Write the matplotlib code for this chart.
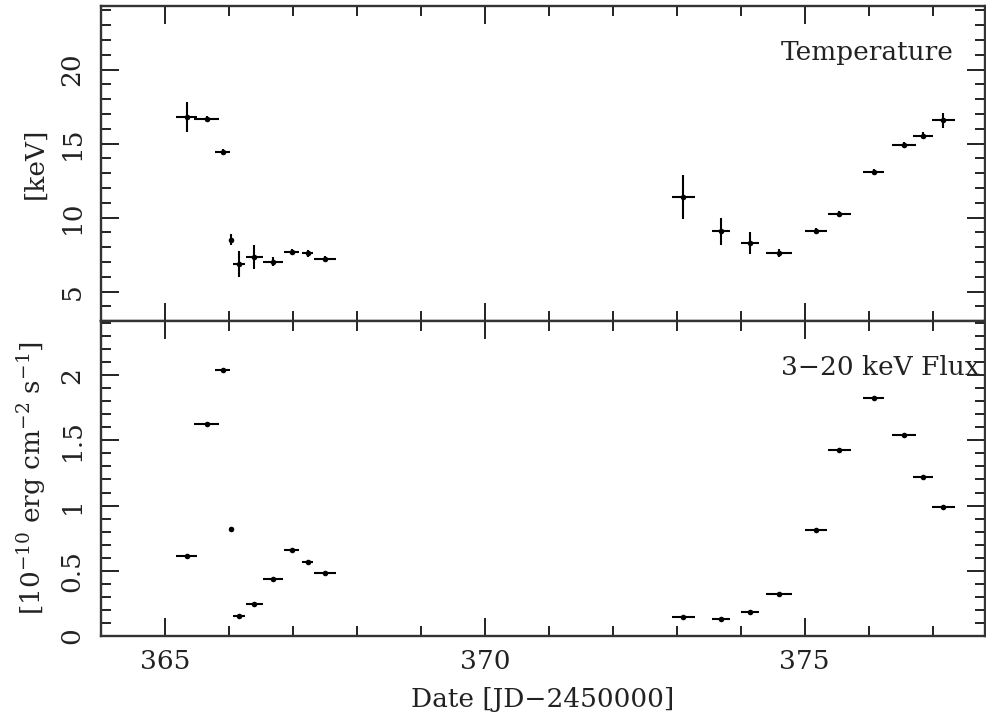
import matplotlib
matplotlib.use("Agg")
import matplotlib.pyplot as plt
from matplotlib.ticker import MultipleLocator

plt.rcParams['font.family'] = ['DejaVu Serif']
plt.rcParams['mathtext.fontset'] = 'dejavuserif'

# Observation dates [JD-2450000]
date = [365.34, 365.65, 365.90, 366.04, 366.16, 366.40, 366.69, 366.98, 367.23, 367.50,
        373.10, 373.69, 374.15, 374.60, 375.18, 375.54, 376.08, 376.55, 376.85, 377.17]
date_err = [0.16, 0.19, 0.11, 0.04, 0.09, 0.13, 0.16, 0.12, 0.09, 0.17,
            0.18, 0.14, 0.14, 0.20, 0.17, 0.18, 0.16, 0.19, 0.16, 0.18]

# Temperature [keV]
temp = [16.80, 16.67, 14.46, 8.51, 6.87, 7.32, 7.01, 7.68, 7.57, 7.23,
        11.37, 9.07, 8.29, 7.61, 9.07, 10.27, 13.09, 14.89, 15.54, 16.57]
temp_err = [1.0, 0.2, 0.2, 0.35, 0.9, 0.8, 0.3, 0.2, 0.25, 0.2,
            1.5, 0.9, 0.75, 0.25, 0.2, 0.2, 0.2, 0.2, 0.25, 0.5]

# 3-20 keV flux [1e-10 erg cm^-2 s^-1]
flux = [0.613, 1.625, 2.04, 0.82, 0.156, 0.248, 0.434, 0.659, 0.569, 0.48,
        0.143, 0.133, 0.186, 0.32, 0.812, 1.425, 1.826, 1.54, 1.216, 0.99]
flux_err = [0.015, 0.015, 0.015, 0.015, 0.012, 0.012, 0.012, 0.012, 0.012, 0.012,
            0.012, 0.012, 0.012, 0.012, 0.015, 0.015, 0.015, 0.015, 0.015, 0.015]

FS = 19
TXT = '#222222'
fig = plt.figure(figsize=(9.87, 7.14), dpi=100)
axT = fig.add_axes([0.1023, 0.5503, 0.8957, 0.4413])
axF = fig.add_axes([0.1023, 0.1092, 0.8957, 0.4411], sharex=axT)

ekw = dict(fmt='o', color='black', ms=4, elinewidth=1.5, capsize=0, mew=0)
axT.errorbar(date, temp, xerr=date_err, yerr=temp_err, **ekw)
axF.errorbar(date, flux, xerr=date_err, yerr=flux_err, **ekw)

axT.set_xlim(364.0, 377.82)
axT.set_ylim(3.0, 24.3)
axF.set_ylim(0.0, 2.414)

axT.yaxis.set_major_locator(MultipleLocator(5))
axT.yaxis.set_minor_locator(MultipleLocator(1))
axF.yaxis.set_major_locator(MultipleLocator(0.5))
axF.yaxis.set_minor_locator(MultipleLocator(0.1))
axF.set_yticks([0, 0.5, 1, 1.5, 2])
axF.set_yticklabels(['0', '0.5', '1', '1.5', '2'])
axT.set_yticks([5, 10, 15, 20])

for ax in (axT, axF):
    for s in ax.spines.values():
        s.set_linewidth(1.7)
        s.set_color('#333333')
    ax.xaxis.set_major_locator(MultipleLocator(5))
    ax.xaxis.set_minor_locator(MultipleLocator(1))
    ax.tick_params(which='both', direction='in', top=True, right=True,
                   width=1.4, color='#222222', labelsize=FS, labelcolor=TXT)
    ax.tick_params(which='major', length=13)
    ax.tick_params(which='minor', length=7)
    ax.tick_params(axis='y', labelrotation=90, pad=12)
    for lab in ax.get_yticklabels():
        lab.set_va('center')

axT.tick_params(axis='x', labelbottom=False)
axF.tick_params(axis='x', pad=9)

axT.set_ylabel('[keV]', fontsize=FS, color=TXT)
axF.set_ylabel(r'[10$^{-10}$ erg cm$^{-2}$ s$^{-1}$]', fontsize=FS, color=TXT)
axT.yaxis.set_label_coords(-0.06, 0.5)
axF.yaxis.set_label_coords(-0.06, 0.5)
axF.set_xlabel('Date [JD\u22122450000]', fontsize=FS, labelpad=10, color=TXT)

axT.text(0.964, 0.854, 'Temperature', transform=axT.transAxes,
         ha='right', va='center', fontsize=FS, color=TXT)
axF.text(0.994, 0.854, '3\u221220 keV Flux', transform=axF.transAxes,
         ha='right', va='center', fontsize=FS, color=TXT)

fig.savefig('out.png', dpi=100)
